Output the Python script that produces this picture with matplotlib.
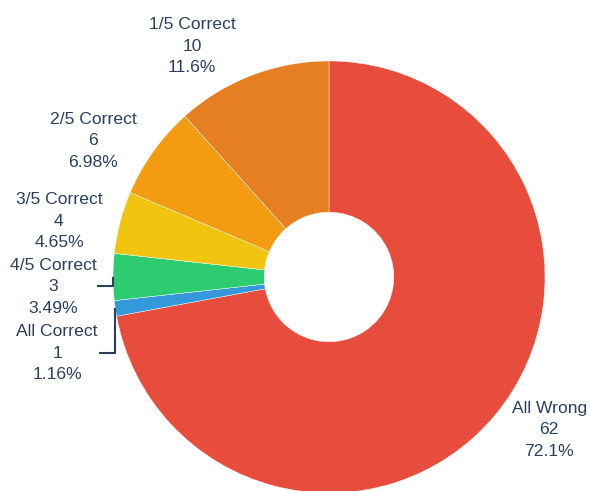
import numpy as np
import matplotlib.pyplot as plt

# Answer counts
labels = ["All Wrong", "All Correct", "4/5 Correct", "3/5 Correct", "2/5 Correct", "1/5 Correct"]
counts = [62, 1, 3, 4, 6, 10]
colors = ["#E74C3C", "#3498DB", "#2ECC71", "#F1C40F", "#F39C12", "#E67E22"]

text_color = "#2a3f5f"
plt.rcParams["font.family"] = ["Liberation Sans", "DejaVu Sans"]

fig = plt.figure(figsize=(5.9, 4.91), dpi=100)
ax = fig.add_axes([0, 0, 1, 1])

ax.pie(counts, colors=colors, startangle=90, counterclock=False, radius=1,
       wedgeprops=dict(width=0.7, edgecolor="white", linewidth=0.3))

# layout: where each label block sits (pie radius = 1)
label_pos = {
    "All Wrong": (1.019, -0.708),
    "All Correct": (-1.259, -0.352),
    "4/5 Correct": (-1.278, -0.046),
    "3/5 Correct": (-1.25, 0.259),
    "2/5 Correct": (-1.093, 0.630),
    "1/5 Correct": (-0.634, 1.069),
}
# elbow leader lines for the two tiny slices
elbows = {
    "4/5 Correct": (-0.042, -1.074),
    "All Correct": (-0.352, -1.065),
}

total = sum(counts)
start = 0.0
for lab, c in zip(labels, counts):
    frac = c / total
    mid = np.deg2rad(90 - 360 * (start + frac / 2))
    start += frac
    pct = 100 * frac
    txt = f"{lab}\n{c}\n{pct:.3g}%"
    x, y = label_pos[lab]
    ax.text(x, y, txt, ha="center", va="center", fontsize=12.6,
            color=text_color, linespacing=1.55)
    if lab in elbows:
        px, py = np.cos(mid), np.sin(mid)
        ey, ex = elbows[lab]
        ax.plot([px, px, ex], [py, ey, ey], color=text_color, lw=1.5,
                solid_capstyle="butt")

ax.set_aspect("auto")
ax.set_xlim(-329 / 216, (590 - 329) / 216)
ax.set_ylim(-214 / 216, (491 - 214) / 216)
ax.axis("off")

fig.savefig("out.png", dpi=100)
